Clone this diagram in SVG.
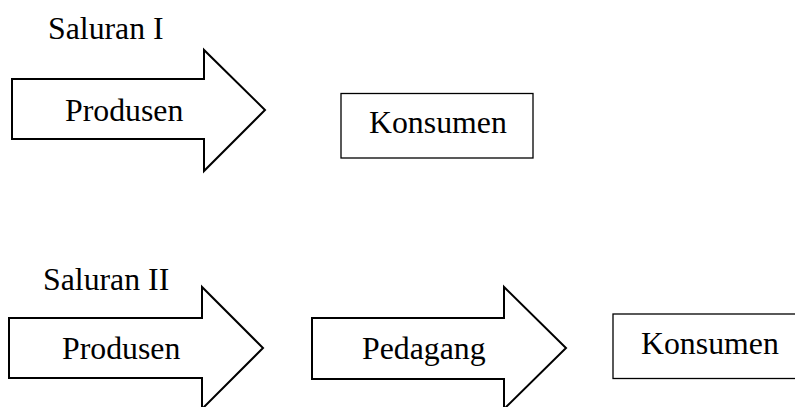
<svg xmlns="http://www.w3.org/2000/svg" width="795" height="407" viewBox="0 0 795 407">
<style>
.shape{fill:#fff;stroke:#000;stroke-width:2;stroke-linejoin:miter}
.box{fill:#fff;stroke:#000;stroke-width:1.3}
.t{font-family:"Liberation Serif","Times New Roman",serif;font-size:31.8px;fill:#000}
</style>
<rect width="795" height="407" fill="#fff"/>
<text class="t" x="48" y="39">Saluran I</text>
<g id="produsen1">
<path class="shape" d="M12,79 H204 V50 L265,110 L204,171 V139 H12 Z"/>
<text class="t" x="65" y="121">Produsen</text>
</g>
<g id="konsumen1">
<rect class="box" x="341" y="93.5" width="192" height="64.5"/>
<text class="t" x="369" y="133">Konsumen</text>
</g>
<text class="t" x="43" y="290">Saluran II</text>
<g id="produsen2">
<path class="shape" d="M9,318 H202 V287 L263,348 L202,409 V378 H9 Z"/>
<text class="t" x="62" y="359">Produsen</text>
</g>
<g id="pedagang">
<path class="shape" d="M312,318 H504 V287 L566,348 L504,409 V379 H312 Z"/>
<text class="t" x="362" y="359">Pedagang</text>
</g>
<g id="konsumen2">
<rect class="box" x="613" y="314" width="190" height="64.5"/>
<text class="t" x="641" y="354">Konsumen</text>
</g>
<g id="connectors"/>
</svg>
